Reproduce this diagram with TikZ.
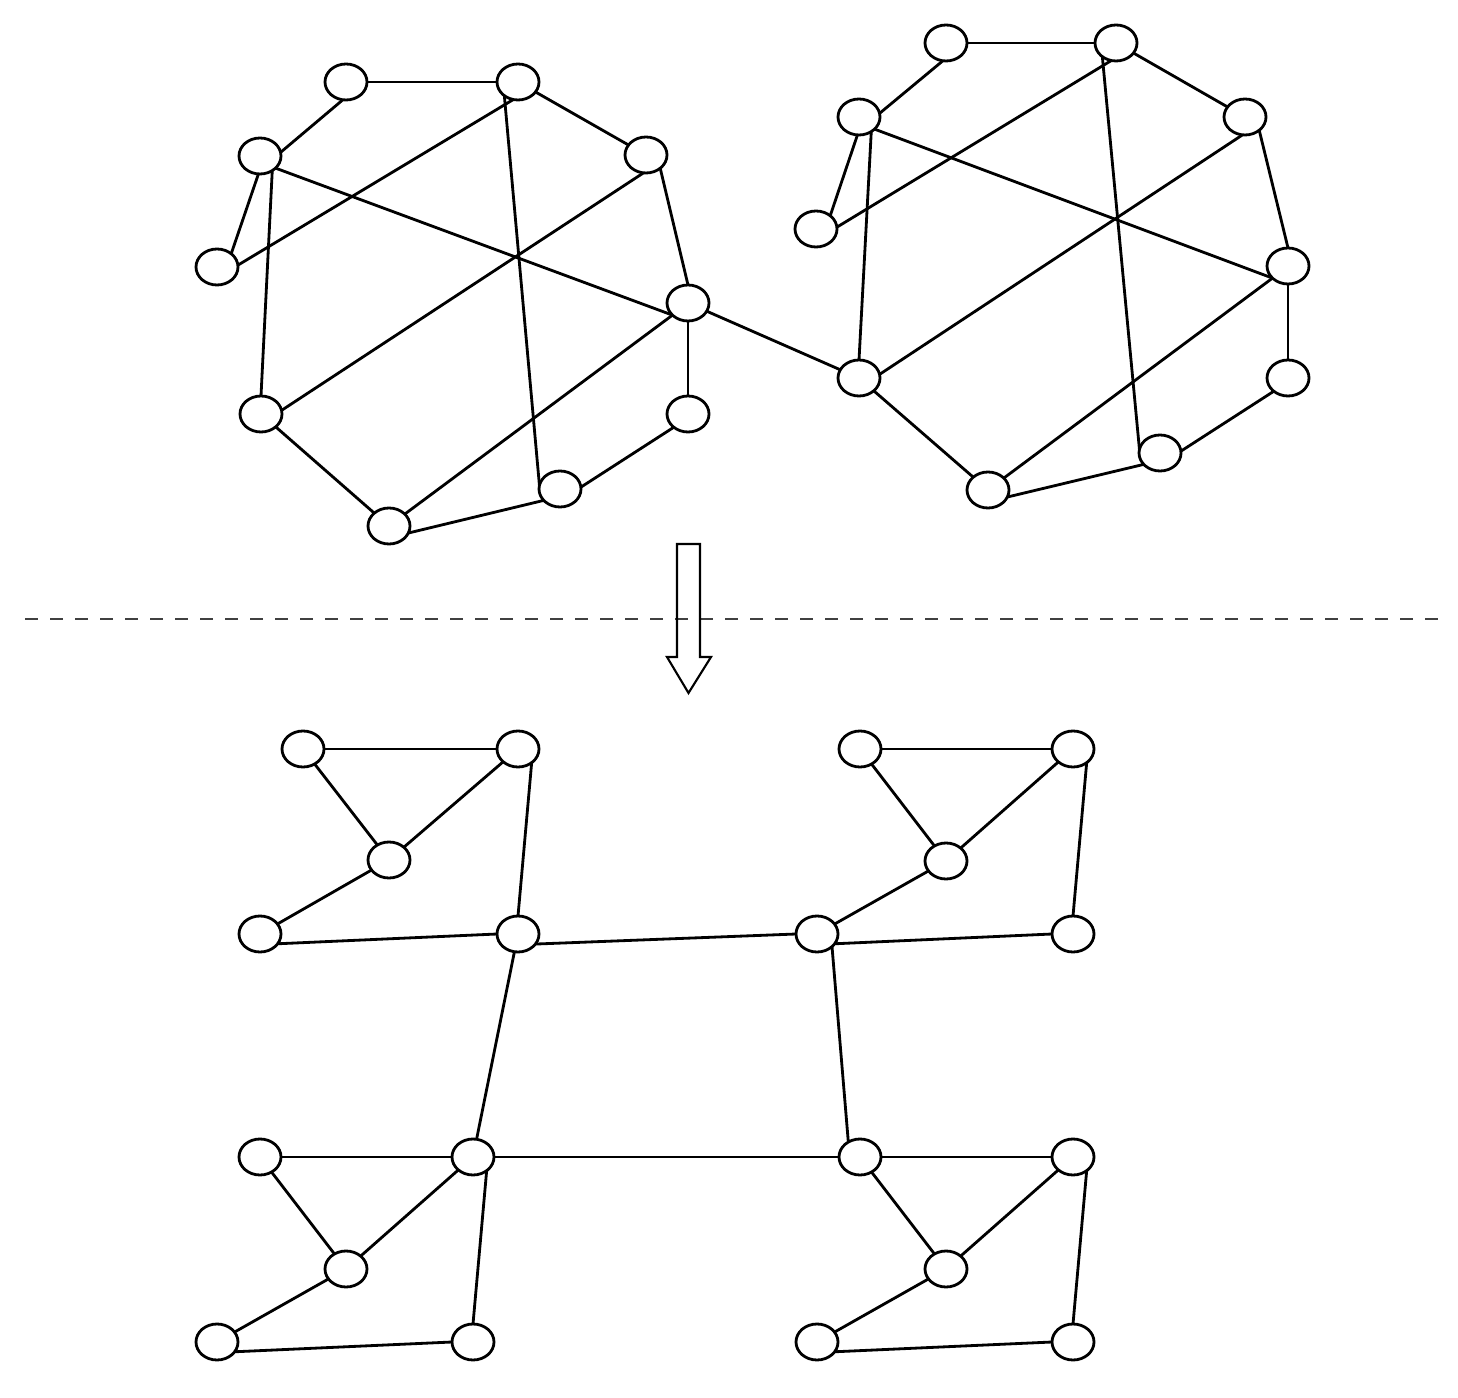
\documentclass[tikz,border=0pt]{standalone}
\usepackage{amsmath,amsfonts,amssymb,amsthm}
\usepackage{tkz-graph}
\usetikzlibrary{arrows,shapes.geometric}

\begin{document}
\begin{tikzpicture}
   \useasboundingbox (0,0) rectangle (14.58,-13.98);
   \tikzset{VertexStyle/.style={draw, ellipse, line width=0.8pt, inner sep=0pt,
      minimum width=0.42cm, minimum height=0.36cm}}
   \Vertex[x=3.46, y=-0.82, NoLabel]{A1}
   \Vertex[x=5.18, y=-0.82, NoLabel]{A2}
   \Vertex[x=2.60, y=-1.56, NoLabel]{A3}
   \Vertex[x=6.46, y=-1.55, NoLabel]{A4}
   \Vertex[x=2.17, y=-2.67, NoLabel]{A5}
   \Vertex[x=6.88, y=-3.03, NoLabel]{A6}
   \Vertex[x=2.61, y=-4.14, NoLabel]{A7}
   \Vertex[x=6.88, y=-4.14, NoLabel]{A8}
   \Vertex[x=5.60, y=-4.89, NoLabel]{A9}
   \Vertex[x=3.89, y=-5.26, NoLabel]{A10}

   \Vertex[x=9.46, y=-0.43, NoLabel]{B1}
   \Vertex[x=11.16, y=-0.43, NoLabel]{B2}
   \Vertex[x=8.59, y=-1.17, NoLabel]{B3}
   \Vertex[x=12.45, y=-1.17, NoLabel]{B4}
   \Vertex[x=8.16, y=-2.29, NoLabel]{B5}
   \Vertex[x=12.88, y=-2.66, NoLabel]{B6}
   \Vertex[x=8.59, y=-3.78, NoLabel]{B7}
   \Vertex[x=12.88, y=-3.78, NoLabel]{B8}
   \Vertex[x=11.60, y=-4.53, NoLabel]{B9}
   \Vertex[x=9.88, y=-4.90, NoLabel]{B10}

   \Vertex[x=3.03, y=-7.49, NoLabel]{C1}
   \Vertex[x=5.18, y=-7.49, NoLabel]{C2}
   \Vertex[x=3.89, y=-8.60, NoLabel]{C3}
   \Vertex[x=2.60, y=-9.34, NoLabel]{C4}
   \Vertex[x=5.18, y=-9.34, NoLabel]{C5}

   \Vertex[x=8.60, y=-7.49, NoLabel]{D1}
   \Vertex[x=10.73, y=-7.49, NoLabel]{D2}
   \Vertex[x=9.46, y=-8.61, NoLabel]{D3}
   \Vertex[x=8.17, y=-9.34, NoLabel]{D4}
   \Vertex[x=10.73, y=-9.34, NoLabel]{D5}

   \Vertex[x=2.60, y=-11.57, NoLabel]{E1}
   \Vertex[x=4.73, y=-11.57, NoLabel]{E2}
   \Vertex[x=3.46, y=-12.69, NoLabel]{E3}
   \Vertex[x=2.17, y=-13.42, NoLabel]{E4}
   \Vertex[x=4.73, y=-13.42, NoLabel]{E5}

   \Vertex[x=8.60, y=-11.57, NoLabel]{F1}
   \Vertex[x=10.73, y=-11.57, NoLabel]{F2}
   \Vertex[x=9.46, y=-12.69, NoLabel]{F3}
   \Vertex[x=8.17, y=-13.42, NoLabel]{F4}
   \Vertex[x=10.73, y=-13.42, NoLabel]{F5}
   \tikzset{EdgeStyle/.style={line width=0.8pt}}
   \Edge(A1)(A2)
   \Edge(A1.-100)(A3.10)
   \Edge(A2)(A4)
   \Edge(A4.-43)(A6.90)
   \Edge(A6)(A8)
   \Edge(A9.5)(A8.223)
   \Edge(A10.-20)(A9.215)
   \Edge(A10)(A7)
   \Edge(A3.-50)(A7.90)
   \Edge(A3.-95)(A5.43)
   \Edge(A5.5)(A2.255)
   \Edge(A3.-38)(A6.218)
   \Edge(A4.262)(A7.10)
   \Edge(A2.225)(A9.170)
   \Edge(A6.218)(A10.37)

   \Edge(A6)(B7)

   \Edge(B1)(B2)
   \Edge(B1.-100)(B3.10)
   \Edge(B2)(B4)
   \Edge(B4.-43)(B6.90)
   \Edge(B6)(B8)
   \Edge(B9.5)(B8.223)
   \Edge(B10.-20)(B9.215)
   \Edge(B10)(B7)
   \Edge(B3.-50)(B7.90)
   \Edge(B3.-95)(B5.43)
   \Edge(B5.5)(B2.255)
   \Edge(B3.-38)(B6.218)
   \Edge(B4.262)(B7.10)
   \Edge(B2.225)(B9.170)
   \Edge(B6.218)(B10.37)

   \Edge(C1)(C2)
   \Edge(C1)(C3)
   \Edge(C3)(C2)
   \Edge(C3)(C4)
   \Edge(C4.-29)(C5.180)
   \Edge(C2.-45)(C5.90)

   \Edge(D1)(D2)
   \Edge(D1)(D3)
   \Edge(D3)(D2)
   \Edge(D3)(D4)
   \Edge(D4.-29)(D5.180)
   \Edge(D2.-45)(D5.90)

   \Edge(E1)(E2)
   \Edge(E1)(E3)
   \Edge(E3)(E2)
   \Edge(E3)(E4)
   \Edge(E4.-29)(E5.180)
   \Edge(E2.-45)(E5.90)

   \Edge(F1)(F2)
   \Edge(F1)(F3)
   \Edge(F3)(F2)
   \Edge(F3)(F4)
   \Edge(F4.-29)(F5.180)
   \Edge(F2.-45)(F5.90)

   \Edge(C5.-30)(D4.180)
   \Edge(C5)(E2)
   \Edge(D4.-40)(F1.128)
   \Edge(E2)(F1)
%   separator and hollow arrow
   \draw[line width=0.6pt, black!75, dash pattern=on 0.13cm off 0.12cm]
      (0.25,-6.19) -- (14.40,-6.19);
   \draw[line width=0.6pt] (6.77,-5.44) -- (7.00,-5.44) -- (7.00,-6.57)
      -- (7.11,-6.57) -- (6.885,-6.93) -- (6.67,-6.57) -- (6.77,-6.57) -- cycle;
\end{tikzpicture}
\end{document}
